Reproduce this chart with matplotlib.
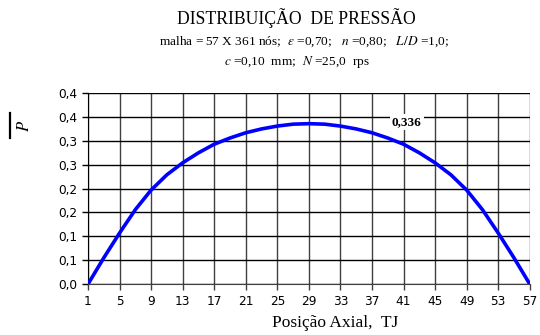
import matplotlib
matplotlib.use("Agg")
import matplotlib.pyplot as plt
from matplotlib.lines import Line2D
from decimal import Decimal, ROUND_HALF_UP

# dados (nós ímpares da malha axial)
nos = [1, 3, 5, 7, 9, 11, 13, 15, 17, 19, 21, 23, 25, 27, 29,
       31, 33, 35, 37, 39, 41, 43, 45, 47, 49, 51, 53, 55, 57]
pressao = [0.000, 0.055, 0.107, 0.156, 0.197, 0.229, 0.254, 0.275, 0.293, 0.306,
           0.317, 0.325, 0.331, 0.335, 0.336, 0.335, 0.331, 0.325, 0.317, 0.306,
           0.293, 0.275, 0.254, 0.229, 0.197, 0.156, 0.107, 0.055, 0.000]
xticks = list(range(1, 58, 4))
yticks = [0.0, 0.05, 0.10, 0.15, 0.20, 0.25, 0.30, 0.35, 0.40]
rotulo_max = "0,336"

plt.rcParams['mathtext.fontset'] = 'stix'
serif = 'Liberation Serif'


def fmt(v):
    s = Decimal(str(v)).quantize(Decimal('0.1'), rounding=ROUND_HALF_UP)
    return str(s).replace('.', ',')


fig = plt.figure(figsize=(5.4, 3.35), dpi=100)
ax = fig.add_axes([0.163, 0.152, 0.818, 0.570])

ax.plot(nos, pressao, color='#0000ff', lw=2.6, solid_capstyle='round',
        solid_joinstyle='round', zorder=3)

ax.set_xlim(1, 57)
ax.set_ylim(0, 0.4)
ax.set_xticks(xticks)
ax.set_xticklabels([str(t) for t in xticks])
ax.set_yticks(yticks)
ax.set_yticklabels([fmt(t) for t in yticks])

for t in xticks:
    ax.axvline(t, color='#404040', lw=1.0, zorder=1)
for t in yticks:
    ax.axhline(t, color='black', lw=1.0, zorder=1)

for s in ['top', 'right']:
    ax.spines[s].set_visible(False)
ax.spines['left'].set_color('black')
ax.spines['bottom'].set_color('#404040')
ax.tick_params(axis='both', direction='out', length=4, width=1, labelsize=8.7,
               colors='black', pad=4)
ax.tick_params(axis='x', colors='#404040', labelcolor='black')

ax.text(41.4, 0.340, rotulo_max, ha='center', va='center', fontsize=9.5,
        fontweight='bold', family=serif, zorder=4,
        bbox=dict(facecolor='white', edgecolor='none', pad=1.5))

fig.text(0.548, 0.945, "DISTRIBUIÇÃO  DE PRESSÃO", ha='center', va='center',
         fontsize=12.7, family=serif)
fig.text(0.563, 0.875,
         r"malha = 57 X 361 nós;  $\varepsilon$ =0,70;   $n$ =0,80;   $L/D$ =1,0;",
         ha='center', va='center', fontsize=9.6, family=serif)
fig.text(0.550, 0.815, r"$c$ =0,10  mm;  $N$ =25,0  rps",
         ha='center', va='center', fontsize=9.6, family=serif)

# rótulo do eixo y: P com barra por cima (girado)
fig.text(0.044, 0.624, r"$P$", rotation=90, ha='center', va='center',
         fontsize=12)
fig.add_artist(Line2D([0.0185, 0.0185], [0.588, 0.663], transform=fig.transFigure,
                      color='black', lw=1.6))
fig.text(0.620, 0.035, "Posição Axial,  TJ", ha='center', va='center',
         fontsize=12.5, family=serif)

fig.savefig("out.png", dpi=100, facecolor='white')
